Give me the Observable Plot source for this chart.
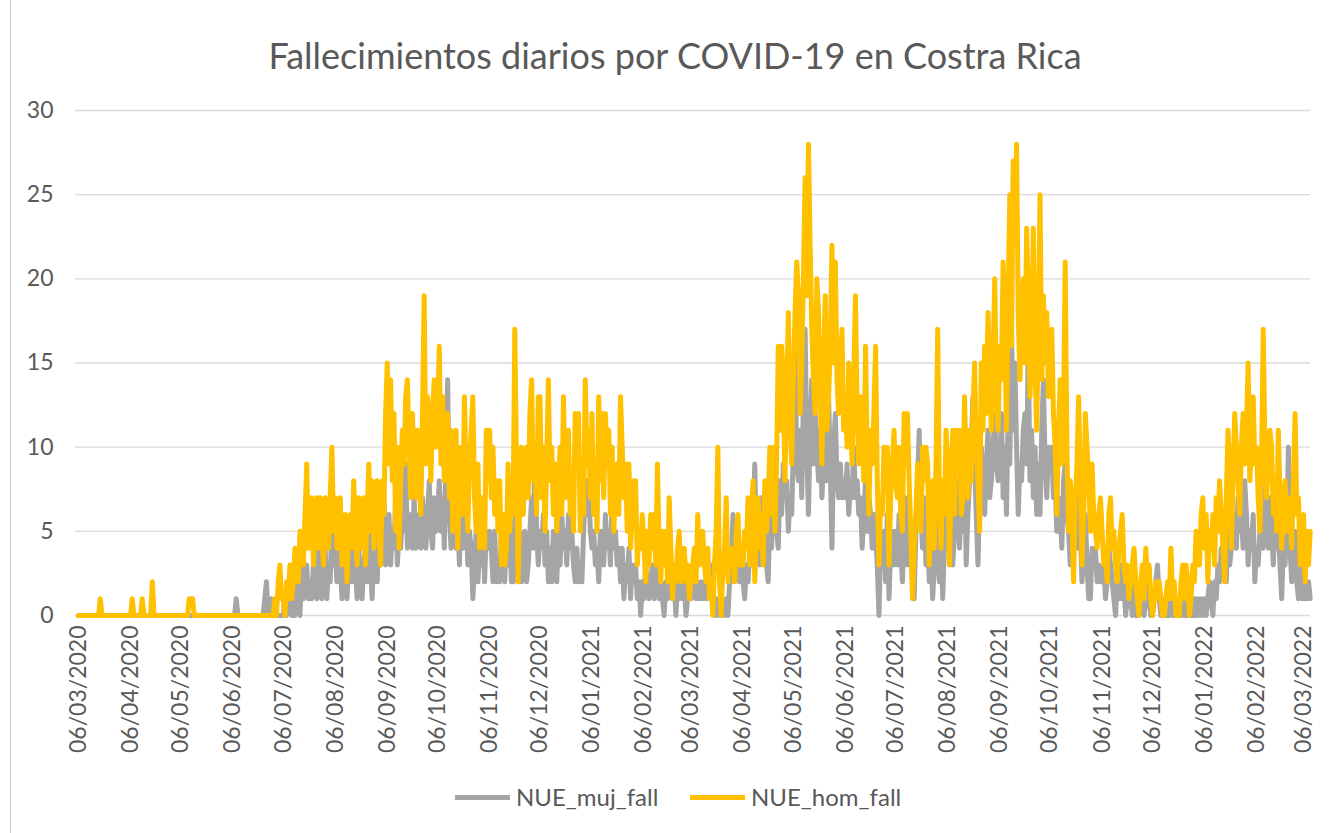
<!DOCTYPE html>
<html>
<head>
<meta charset="utf-8">
<script src="https://cdn.jsdelivr.net/npm/d3@7"></script>
<script src="https://cdn.jsdelivr.net/npm/@observablehq/plot@0.6"></script>
<style>
  html, body { margin: 0; padding: 0; background: #ffffff; }
  #frame { position: relative; width: 1329px; height: 833px; overflow: hidden; background: #ffffff; font-family: Lato, "Open Sans", sans-serif; color: #595959; }
  #border { position: absolute; left: 10px; top: 0; width: 1px; height: 833px; background: #cfcfcf; }
  #title { position: absolute; left: 20px; top: 30px; width: 1310px; text-align: center; font-size: 36px; line-height: 50px; color: #595959; }
  #chart { position: absolute; left: 0; top: 95px; }
  .sw { position: absolute; top: 795px; width: 55px; height: 5px; }
  .lt { position: absolute; top: 782px; font-size: 24px; line-height: 30px; color: #595959; }
</style>
</head>
<body>
<div id="frame">
  <div id="border"></div>
  <div id="title">Fallecimientos diarios por COVID-19 en Costra Rica</div>
  <div id="chart"></div>
  <div class="sw" style="left:455px;background:#A5A5A5"></div>
  <div class="lt" style="left:516px">NUE_muj_fall</div>
  <div class="sw" style="left:690px;background:#FFC000"></div>
  <div class="lt" style="left:751px">NUE_hom_fall</div>
</div>
<script>
// ---- Data (daily values from 06/03/2020) ----
const startDate = "2020-03-06";
const seriesNames = ["NUE_muj_fall", "NUE_hom_fall"];
const seriesColors = ["#A5A5A5", "#FFC000"];
const yTicks = [0, 5, 10, 15, 20, 25, 30];
const tickLabels = ["06/03/2020","06/04/2020","06/05/2020","06/06/2020","06/07/2020","06/08/2020","06/09/2020","06/10/2020","06/11/2020","06/12/2020","06/01/2021","06/02/2021","06/03/2021","06/04/2021","06/05/2021","06/06/2021","06/07/2021","06/08/2021","06/09/2021","06/10/2021","06/11/2021","06/12/2021","06/01/2022","06/02/2022","06/03/2022"];

// Men (06/03/2020 - 05/01/2021)
const hom2020 = [
  0,0,0,0,0,0,0,0,0,0,0,0,0,1,0,0,0,0,0,0,0,0,0,0,0,0,0,0,0,0,0,
  0,1,0,0,0,0,0,1,0,0,0,0,0,2,0,0,0,0,0,0,0,0,0,0,0,0,0,0,0,0,
  0,0,0,0,0,1,1,1,0,0,0,0,0,0,0,0,0,0,0,0,0,0,0,0,0,0,0,0,0,0,0,
  0,0,0,0,0,0,0,0,0,0,0,0,0,0,0,0,0,0,0,0,0,0,0,0,0,1,0,2,3,1,
  1,0,2,1,3,1,2,4,3,2,5,4,3,6,9,4,5,7,3,6,7,4,7,5,3,7,6,4,7,10,5,
  7,4,6,7,3,5,6,2,5,6,4,8,5,3,7,6,4,7,3,6,9,5,8,4,7,8,5,3,8,6,12,
  15,9,14,8,12,5,10,4,8,11,9,13,14,10,7,12,9,7,11,8,6,12,19,9,13,11,8,12,14,10,
  12,16,9,13,8,11,12,7,11,5,9,11,4,8,10,6,13,8,5,9,11,13,7,5,9,4,7,6,4,11,8,
  11,7,10,6,8,5,8,3,6,3,4,9,5,8,6,17,9,2,7,10,6,9,10,7,12,14,8,10,6,13,
  13,7,10,5,9,14,8,10,6,9,5,8,10,6,13,7,9,11,6,8,5,12,9,12,5,8,6,14,9,11,7
];
// Men (06/01/2021 - 05/01/2022)
const hom2021 = [
  12,6,9,5,13,8,12,7,12,9,11,6,10,5,8,9,6,13,10,7,9,5,9,4,6,8,8,3,5,4,6,
  4,2,5,3,6,4,6,3,9,4,2,5,3,5,2,7,4,1,3,2,4,5,2,3,4,2,3,1,
  2,3,4,2,6,3,4,5,3,2,4,1,2,0,3,5,10,2,0,3,4,7,2,4,3,4,2,5,6,3,4,
  3,5,4,7,3,6,8,2,5,7,4,6,3,8,5,7,10,6,10,5,9,16,11,16,14,8,13,18,12,9,
  14,18,21,19,12,15,20,26,19,28,22,17,14,12,20,18,13,9,15,19,11,13,16,22,15,21,14,12,15,17,11,
  13,10,15,12,9,14,19,12,9,13,11,8,16,10,6,11,9,12,16,8,3,7,6,10,8,10,3,7,9,11,
  8,7,10,6,5,12,9,12,8,5,1,4,6,9,7,5,10,8,10,9,3,6,8,4,9,17,7,4,8,6,11,
  9,3,8,11,6,11,9,11,6,7,13,9,7,11,8,12,15,10,8,5,15,11,16,12,18,14,11,15,20,13,11,
  16,14,21,17,11,19,25,16,27,22,28,18,14,17,20,15,23,19,13,16,23,15,11,17,25,14,19,15,18,13,
  15,17,12,10,6,11,14,9,12,21,10,5,8,6,2,7,9,13,8,3,6,12,10,8,5,9,6,5,4,6,7,
  5,3,4,2,6,7,4,5,3,2,4,5,6,3,2,3,1,2,3,4,2,1,0,2,3,1,4,2,3,1,
  0,1,2,1,2,1,0,0,1,2,1,4,1,2,0,1,0,2,3,1,3,2,0,1,3,2,5,4,3,6,7
];
// Men (06/01/2022 - 10/03/2022)
const hom2022 = [
  4,6,2,5,4,6,3,7,5,8,6,4,2,7,11,9,4,8,12,10,8,6,10,12,9,11,15,8,10,13,9,
  10,7,5,9,17,10,7,9,11,10,6,8,5,11,7,4,6,8,5,7,6,4,8,12,6,7,3,4,
  6,2,5,3,5
];

// Women (06/03/2020 - 05/01/2021)
const muj2020 = [
  0,0,0,0,0,0,0,0,0,0,0,0,0,0,0,0,0,0,0,0,0,0,0,0,0,0,0,0,0,0,0,
  0,0,0,0,0,0,0,0,0,0,0,0,0,0,0,0,0,0,0,0,0,0,0,0,0,0,0,0,0,0,
  0,0,0,0,0,0,0,0,0,0,0,0,0,0,0,0,0,0,0,0,0,0,0,0,0,0,0,0,0,0,0,
  0,0,1,0,0,0,0,0,0,0,0,0,0,0,0,0,0,0,0,1,2,0,0,1,0,0,0,0,0,0,
  0,1,0,1,2,0,1,0,2,1,0,3,1,2,3,1,2,1,3,2,1,4,3,1,2,4,1,3,2,6,3,
  4,2,5,3,1,4,2,1,3,4,2,5,3,1,4,2,1,3,4,2,5,3,1,4,3,2,5,3,4,7,3,
  4,6,3,5,4,7,3,5,4,6,5,9,4,6,5,4,7,4,5,6,4,7,5,4,6,8,5,4,7,5,
  6,8,5,7,4,10,14,6,4,7,5,4,6,3,7,4,5,6,3,5,4,1,3,5,2,4,3,5,2,5,4,
  5,4,2,5,2,3,2,5,4,2,5,3,5,2,2,6,3,2,5,2,4,5,2,3,5,7,4,10,5,3,
  5,4,6,3,5,2,4,2,5,4,2,5,3,6,4,5,3,6,4,5,3,2,4,2,3,2,5,8,6,8,5
];
// Women (06/01/2021 - 05/01/2022)
const muj2021 = [
  4,5,3,4,2,5,4,3,6,4,5,3,7,4,5,3,4,2,4,1,3,2,4,1,3,2,3,1,2,0,2,
  1,3,2,1,2,3,1,2,3,1,2,1,0,2,1,3,2,1,2,0,2,1,3,1,2,0,1,2,
  1,2,3,1,2,1,2,1,2,1,2,1,3,1,0,1,0,1,0,1,0,1,0,2,3,6,2,3,4,2,3,
  2,1,3,2,4,3,5,9,4,6,3,7,4,5,3,2,6,4,7,7,5,4,8,6,9,7,8,5,7,6,
  10,16,9,8,11,7,13,17,10,6,11,14,9,12,10,8,11,7,9,12,8,13,9,4,10,12,8,7,9,7,8,
  7,9,6,8,7,10,7,8,6,7,4,6,8,5,7,6,4,6,5,3,0,4,3,5,2,6,1,4,5,3,
  5,3,6,4,2,5,7,3,6,4,2,1,5,8,11,6,4,7,3,5,2,4,1,3,6,4,2,5,1,4,7,
  6,4,7,3,5,8,6,4,7,5,9,3,6,8,10,13,9,6,3,7,10,8,6,9,11,7,8,10,12,9,8,
  9,12,7,10,6,12,9,17,11,15,10,6,9,8,11,12,9,16,8,11,7,10,6,9,6,11,14,9,7,10,
  9,10,7,8,5,7,6,4,8,9,6,5,3,4,6,5,4,7,5,2,4,6,3,1,1,4,3,4,2,3,2,
  2,3,1,2,4,3,2,1,0,2,1,3,1,2,0,1,2,1,0,2,0,1,0,1,2,0,1,3,1,0,
  0,1,2,3,1,0,1,0,0,1,0,2,0,1,0,0,1,0,2,0,1,0,1,0,0,1,0,1,0,1,0
];
// Women (06/01/2022 - 10/03/2022)
const muj2022 = [
  1,0,1,2,1,0,2,1,3,2,4,3,4,2,5,3,4,6,5,4,7,5,6,4,8,6,3,5,4,6,2,
  4,3,5,7,4,11,6,4,7,5,3,6,4,5,3,1,4,3,5,10,4,2,3,5,2,1,3,1,
  2,1,1,2,1
];

// ---- Build table ----
const parseDMY = d3.utcParse("%d/%m/%Y");
const start = d3.utcParse("%Y-%m-%d")(startDate);
const seriesValues = [
  [...muj2020, ...muj2021, ...muj2022],
  [...hom2020, ...hom2021, ...hom2022]
];
const tables = seriesValues.map((vals, s) =>
  vals.map((v, i) => ({date: d3.utcDay.offset(start, i), value: v, serie: seriesNames[s]}))
);
const tickDates = tickLabels.map(parseDMY);

const chart = Plot.plot({
  width: 1329,
  height: 680,
  marginLeft: 75,
  marginRight: 19,
  marginTop: 15,
  marginBottom: 160,
  style: {fontFamily: "Lato, 'Open Sans', sans-serif", fontSize: "23px", color: "#595959", background: "transparent"},
  x: {type: "utc", domain: [tickDates[0], tickDates[tickDates.length - 1]], range: [78, 1303]},
  y: {domain: [0, 30]},
  marks: [
    Plot.gridY(yTicks, {stroke: "#d9d9d9", strokeOpacity: 1, strokeWidth: 1.4}),
    Plot.axisY(yTicks, {tickSize: 0, tickPadding: 22, label: null, fontSize: 23}),
    Plot.axisX(tickDates, {tickSize: 0, tickPadding: 10, tickRotate: -90, label: null, fontSize: 23,
      tickFormat: d3.utcFormat("%d/%m/%Y")}),
    ...tables.map((t, s) => Plot.lineY(t, {x: "date", y: "value", stroke: seriesColors[s], strokeWidth: 5, strokeLinejoin: "round", strokeLinecap: "round"}))
  ]
});
document.getElementById("chart").appendChild(chart);
</script>
</body>
</html>
